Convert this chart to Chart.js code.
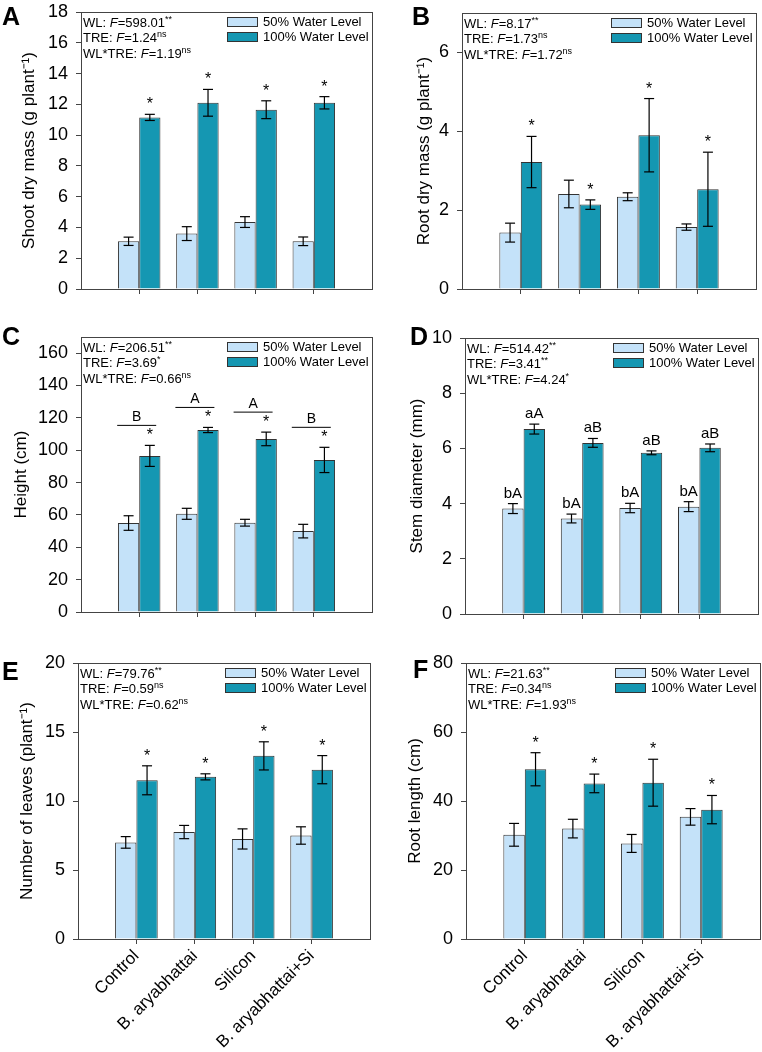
<!DOCTYPE html>
<html>
<head>
<meta charset="utf-8">
<script src="https://cdn.jsdelivr.net/npm/chart.js@4.4.1/dist/chart.umd.min.js"></script>
<style>
  html, body { margin: 0; padding: 0; background: #fff; }
  #fig { position: relative; width: 762px; height: 1052px; }
  #fig canvas { position: absolute; }
</style>
</head>
<body>
<div id="fig">
  <canvas id="cA" width="380" height="325" style="left:0;top:0"></canvas>
  <canvas id="cB" width="381" height="325" style="left:381px;top:0"></canvas>
  <canvas id="cC" width="380" height="325" style="left:0;top:325px"></canvas>
  <canvas id="cD" width="381" height="325" style="left:381px;top:325px"></canvas>
  <canvas id="cE" width="380" height="402" style="left:0;top:650px"></canvas>
  <canvas id="cF" width="381" height="402" style="left:381px;top:650px"></canvas>
</div>
<script>
const FONT = "'Liberation Sans', Arial, sans-serif";
const LIGHT = '#c4e2f9';
const DARK = '#1597b2';
const INK = '#444';

/* ===== DATA ===== */
const categories = ['Control', 'B. aryabhattai', 'Silicon', 'B. aryabhattai+Si'];
const seriesNames = ['50% Water Level', '100% Water Level'];

// A - shoot dry mass
const shootLow = [3.1, 3.6, 4.35, 3.1];
const shootLowErr = [0.27, 0.45, 0.35, 0.28];
const shootHigh = [11.15, 12.1, 11.65, 12.1];
const shootHighErr = [0.2, 0.87, 0.58, 0.4];
const shootStats = [['WL', '598.01', '**'], ['TRE', '1.24', 'ns'], ['WL*TRE', '1.19', 'ns']];

// B - root dry mass
const rootLow = [1.43, 2.41, 2.34, 1.57];
const rootLowErr = [0.24, 0.35, 0.1, 0.08];
const rootHigh = [3.22, 2.14, 3.9, 2.53];
const rootHighErr = [0.65, 0.12, 0.93, 0.94];
const rootStats = [['WL', '8.17', '**'], ['TRE', '1.73', 'ns'], ['WL*TRE', '1.72', 'ns']];

// C - height
const heightLow = [55, 60.7, 55.2, 50];
const heightLowErr = [4.5, 3.4, 2.1, 4.2];
const heightHigh = [96.5, 112.5, 107, 94];
const heightHighErr = [6.5, 1.6, 4.2, 7.8];
const heightGroups = ['B', 'A', 'A', 'B'];
const heightStats = [['WL', '206.51', '**'], ['TRE', '3.69', '*'], ['WL*TRE', '0.66', 'ns']];

// D - stem diameter
const stemLow = [3.82, 3.46, 3.84, 3.89];
const stemLowErr = [0.18, 0.16, 0.17, 0.18];
const stemHigh = [6.7, 6.2, 5.84, 6.02];
const stemHighErr = [0.18, 0.16, 0.07, 0.14];
const stemLowLetters = ['bA', 'bA', 'bA', 'bA'];
const stemHighLetters = ['aA', 'aB', 'aB', 'aB'];
const stemStats = [['WL', '514.42', '**'], ['TRE', '3.41', '**'], ['WL*TRE', '4.24', '*']];

// E - number of leaves
const leavesLow = [7.0, 7.75, 7.25, 7.5];
const leavesLowErr = [0.42, 0.48, 0.73, 0.63];
const leavesHigh = [11.5, 11.75, 13.27, 12.27];
const leavesHighErr = [1.05, 0.22, 1.02, 1.02];
const leavesStats = [['WL', '79.76', '**'], ['TRE', '0.59', 'ns'], ['WL*TRE', '0.62', 'ns']];

// F - root length
const rootLenLow = [30.2, 32, 27.7, 35.4];
const rootLenLowErr = [3.3, 2.7, 2.6, 2.4];
const rootLenHigh = [49.2, 45.1, 45.3, 37.5];
const rootLenHighErr = [4.8, 2.7, 6.8, 4.1];
const rootLenStats = [['WL', '21.63', '**'], ['TRE', '0.34', 'ns'], ['WL*TRE', '1.93', 'ns']];

/* ===== HELPERS ===== */
// empty slot at each end so the four groups sit inside the frame like the original
const labels = ['', ...categories, ''];
const pad = arr => [null, ...arr, null];

function line(ctx, x1, y1, x2, y2) {
  ctx.beginPath();
  ctx.moveTo(x1, y1);
  ctx.lineTo(x2, y2);
  ctx.stroke();
}

function drawStats(ctx, x, y, s) {
  let cx = x;
  const seg = (txt, font, dy = 0) => {
    ctx.font = font;
    ctx.fillText(txt, cx, y + dy);
    cx += ctx.measureText(txt).width;
  };
  seg(s[0] + ': ', '13px ' + FONT);
  seg('F', 'italic 13px ' + FONT);
  seg('=' + s[1], '13px ' + FONT);
  seg(s[2], '9px ' + FONT, -5);
}

/* ===== DECORATION: frame, error bars, marks, legend, stats ===== */
const decor = {
  id: 'decor',
  afterDatasetsDraw(chart, args, o) {
    const { ctx, chartArea: a, scales: { x, y } } = chart;
    ctx.save();

    // frame
    ctx.strokeStyle = INK;
    ctx.lineWidth = 1;
    ctx.strokeRect(a.left + 0.5, a.top + 0.5, a.right - a.left, a.bottom - a.top);

    // error bars
    ctx.strokeStyle = '#000';
    ctx.lineWidth = 1.2;
    const tops = [[], []];
    chart.data.datasets.forEach((ds, d) => {
      const meta = chart.getDatasetMeta(d);
      ds.data.forEach((v, i) => {
        if (v == null) return;
        const e = o.errors[d][i - 1];
        const bx = meta.data[i].x;
        const t = y.getPixelForValue(v + e);
        const b = y.getPixelForValue(v - e);
        line(ctx, bx, t, bx, b);
        line(ctx, bx - 5, t, bx + 5, t);
        line(ctx, bx - 5, b, bx + 5, b);
        tops[d][i] = { x: bx, t };
      });
    });

    ctx.fillStyle = '#000';
    ctx.textAlign = 'center';
    ctx.textBaseline = 'alphabetic';

    // significance asterisks over the 100% bars
    if (o.stars) {
      ctx.font = '16px ' + FONT;
      tops[1].forEach(p => { if (p) ctx.fillText('*', p.x, p.t - 5); });
    }

    // group letters with a line over each pair
    if (o.groups) {
      ctx.lineWidth = 1;
      ctx.font = '14px ' + FONT;
      o.groups.forEach((g, k) => {
        const c = x.getPixelForValue(k + 1);
        const ly = tops[1][k + 1].t - 20;
        line(ctx, c - 22, ly, c + 17, ly);
        ctx.fillText(g, c - 2.5, ly - 4);
      });
    }

    // letters over each bar
    if (o.barLetters) {
      ctx.font = '15px ' + FONT;
      o.barLetters.forEach((arr, d) => {
        arr.forEach((s, k) => {
          const p = tops[d][k + 1];
          ctx.fillText(s, p.x, p.t - 6);
        });
      });
    }

    // legend
    ctx.textAlign = 'left';
    ctx.textBaseline = 'middle';
    ctx.font = '13px ' + FONT;
    chart.data.datasets.forEach((ds, d) => {
      const bx = a.right - 145;
      const by = a.top + 5 + 15 * d;
      ctx.fillStyle = ds.backgroundColor;
      ctx.fillRect(bx, by, 30, 9);
      ctx.strokeStyle = '#333';
      ctx.lineWidth = 1;
      ctx.strokeRect(bx + 0.5, by + 0.5, 30, 9);
      ctx.fillStyle = '#000';
      ctx.fillText(ds.label, bx + 36, by + 5);
    });

    // ANOVA lines
    ctx.textBaseline = 'alphabetic';
    o.stats.forEach((s, k) => drawStats(ctx, a.left + 2, a.top + 14.5 + 15.5 * k, s));

    // panel letter
    ctx.font = 'bold 25px ' + FONT;
    ctx.fillText(o.letter, o.lx, o.ly);

    ctx.restore();
  }
};

/* ===== PANELS ===== */
function panel(id, cfg) {
  const area = cfg.area;
  return new Chart(document.getElementById(id), {
    type: 'bar',
    data: {
      labels,
      datasets: [
        { label: seriesNames[0], data: pad(cfg.low), backgroundColor: LIGHT, borderColor: '#333', borderWidth: 1,
          categoryPercentage: 0.73, barPercentage: 1 },
        { label: seriesNames[1], data: pad(cfg.high), backgroundColor: DARK, borderColor: '#333', borderWidth: 1,
          categoryPercentage: 0.73, barPercentage: 1 }
      ]
    },
    options: {
      responsive: false,
      animation: false,
      layout: { padding: { top: area.top, right: area.right, left: 0, bottom: 0 } },
      plugins: {
        legend: { display: false },
        tooltip: { enabled: false },
        decor: {
          errors: [cfg.lowErr, cfg.highErr],
          stats: cfg.stats,
          stars: cfg.stars,
          groups: cfg.groups,
          barLetters: cfg.barLetters,
          letter: cfg.letter, lx: cfg.lx, ly: cfg.ly
        }
      },
      scales: {
        x: {
          offset: false,
          border: { display: false },
          grid: {
            offset: false,
            drawOnChartArea: false,
            tickLength: 5,
            tickColor: c => (c.index === 0 || c.index === labels.length - 1) ? 'rgba(0,0,0,0)' : INK
          },
          ticks: {
            display: !!cfg.showLabels,
            autoSkip: false,
            minRotation: 45,
            maxRotation: 45,
            padding: 2,
            color: '#000',
            font: { family: FONT, size: 17 }
          },
          afterFit: s => { s.height = area.xh; s.paddingLeft = 0; s.paddingRight = 0; }
        },
        y: {
          min: 0,
          max: cfg.max,
          border: { display: false },
          grid: { drawOnChartArea: false, tickLength: 5, tickColor: INK },
          ticks: {
            stepSize: cfg.step,
            includeBounds: false,
            padding: 8,
            color: '#000',
            font: { family: FONT, size: 18 }
          },
          title: {
            display: true,
            text: cfg.title,
            color: '#000',
            font: { family: FONT, size: 17 },
            padding: { top: cfg.titlePad, bottom: 0 }
          },
          afterFit: s => { s.width = area.left; s.paddingTop = 0; s.paddingBottom = 0; }
        }
      }
    },
    plugins: [decor]
  });
}

panel('cA', {
  low: shootLow, lowErr: shootLowErr, high: shootHigh, highErr: shootHighErr,
  stats: shootStats, stars: true, max: 18, step: 2,
  title: 'Shoot dry mass (g plant\u207B\u00B9)', titlePad: 19,
  area: { left: 81, top: 12, right: 8, xh: 36 },
  letter: 'A', lx: 2, ly: 25
});

panel('cB', {
  low: rootLow, lowErr: rootLowErr, high: rootHigh, highErr: rootHighErr,
  stats: rootStats, stars: true, max: 7, step: 2,
  title: 'Root dry mass (g plant\u207B\u00B9)', titlePad: 33,
  area: { left: 81, top: 13, right: 6, xh: 36 },
  letter: 'B', lx: 31, ly: 25
});

panel('cC', {
  low: heightLow, lowErr: heightLowErr, high: heightHigh, highErr: heightHighErr,
  stats: heightStats, stars: true, groups: heightGroups, max: 170, step: 20,
  title: 'Height (cm)', titlePad: 11,
  area: { left: 81, top: 12, right: 8, xh: 38 },
  letter: 'C', lx: 2, ly: 20
});

panel('cD', {
  low: stemLow, lowErr: stemLowErr, high: stemHigh, highErr: stemHighErr,
  stats: stemStats, barLetters: [stemLowLetters, stemHighLetters], max: 10, step: 2,
  title: 'Stem diameter (mm)', titlePad: 26,
  area: { left: 84, top: 13, right: 4, xh: 36 },
  letter: 'D', lx: 29, ly: 20
});

panel('cE', {
  low: leavesLow, lowErr: leavesLowErr, high: leavesHigh, highErr: leavesHighErr,
  stats: leavesStats, stars: true, max: 20, step: 5, showLabels: true,
  title: 'Number of leaves (plant\u207B\u00B9)', titlePad: 17,
  area: { left: 78, top: 13, right: 10, xh: 113 },
  letter: 'E', lx: 2, ly: 30
});

panel('cF', {
  low: rootLenLow, lowErr: rootLenLowErr, high: rootLenHigh, highErr: rootLenHighErr,
  stats: rootLenStats, stars: true, max: 80, step: 20, showLabels: true,
  title: 'Root length (cm)', titlePad: 24,
  area: { left: 85, top: 13, right: 2, xh: 113 },
  letter: 'F', lx: 32, ly: 28
});
</script>
</body>
</html>
